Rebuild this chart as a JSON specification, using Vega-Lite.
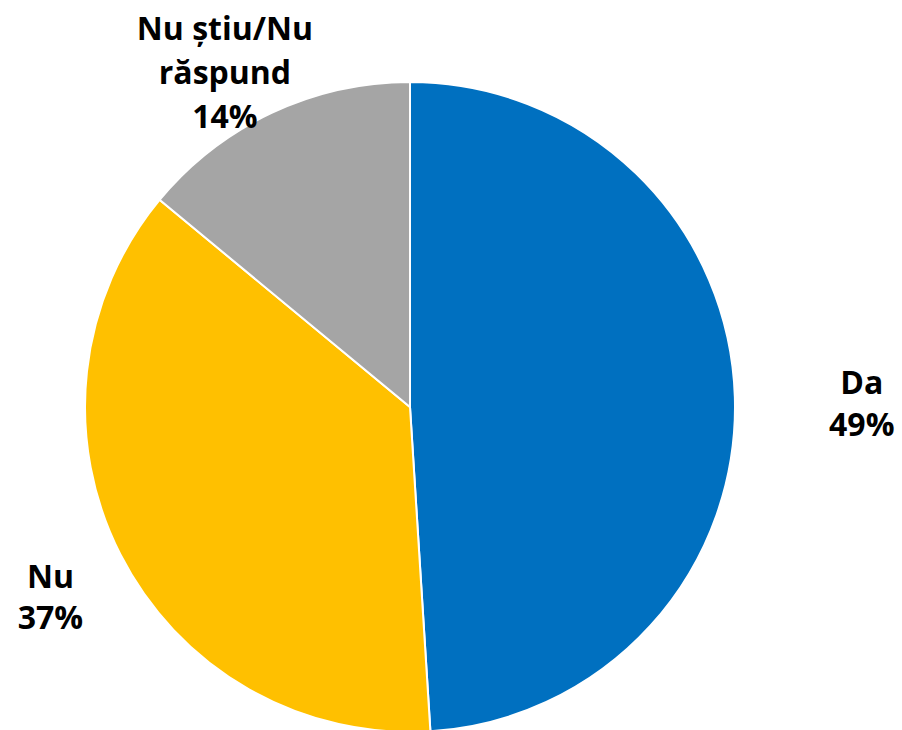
{
  "$schema": "https://vega.github.io/schema/vega-lite/v6.json",
  "width": 820,
  "height": 814,
  "autosize": {"type": "none"},
  "padding": {"left": 0, "top": 0, "right": 82, "bottom": 0},
  "background": "white",
  "view": {"stroke": null},
  "data": {
    "values": [
      {"idx": 1, "category": "Da", "value": 49, "label": "Da|49%"},
      {"idx": 2, "category": "Nu", "value": 37, "label": "Nu|37%"},
      {"idx": 3, "category": "Nu știu/Nu răspund", "value": 14, "label": "Nu știu/Nu|răspund|14%"}
    ]
  },
  "encoding": {
    "theta": {"field": "value", "type": "quantitative", "stack": true},
    "order": {"field": "idx", "type": "quantitative"},
    "color": {
      "field": "category",
      "type": "nominal",
      "scale": {"domain": ["Da", "Nu", "Nu știu/Nu răspund"], "range": ["#0070C0", "#FFC000", "#A5A5A5"]},
      "legend": null
    }
  },
  "layer": [
    {"mark": {"type": "arc", "outerRadius": 325, "stroke": "white", "strokeWidth": 2}},
    {
      "mark": {"type": "text", "radius": 452, "dy": -9, "lineBreak": "|", "font": "Open Sans", "fontWeight": "bold", "fontSize": 32, "lineHeight": 42, "align": "center", "baseline": "middle"},
      "encoding": {"text": {"condition": {"test": "datum.category === 'Da'", "field": "label"}, "value": ""}, "color": {"value": "#000000"}}
    },
    {
      "mark": {"type": "text", "radius": 408, "dx": 4, "dy": -14, "lineBreak": "|", "font": "Open Sans", "fontWeight": "bold", "fontSize": 32, "lineHeight": 41, "align": "center", "baseline": "middle"},
      "encoding": {"text": {"condition": {"test": "datum.category === 'Nu'", "field": "label"}, "value": ""}, "color": {"value": "#000000"}}
    },
    {
      "mark": {"type": "text", "radius": 383, "dx": -22, "dy": -30, "lineBreak": "|", "font": "Open Sans", "fontWeight": "bold", "fontSize": 32, "lineHeight": 44, "align": "center", "baseline": "middle"},
      "encoding": {"text": {"condition": {"test": "datum.category === 'Nu știu/Nu răspund'", "field": "label"}, "value": ""}, "color": {"value": "#000000"}}
    }
  ]
}
